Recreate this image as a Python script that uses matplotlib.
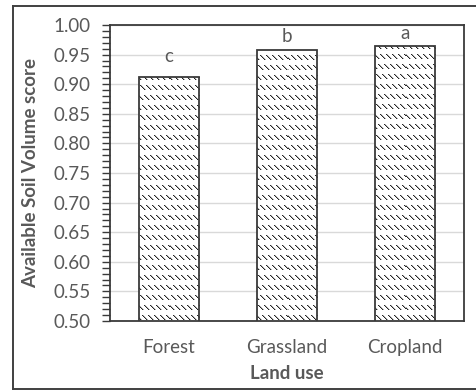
import numpy as np
import matplotlib
matplotlib.use("Agg")
import matplotlib.pyplot as plt
from matplotlib.lines import Line2D
from matplotlib.ticker import MultipleLocator, FormatStrFormatter

# Available soil volume score by land use
land_use = ["Forest", "Grassland", "Cropland"]
score = [0.912, 0.957, 0.965]
std_err = [0.018, 0.007, 0.004]
letters = ["c", "b", "a"]

plt.rcParams["font.family"] = ["Lato", "DejaVu Sans"]
text_grey = "#595959"
frame_col = "#3a3a3a"
fs = 13.5

fig = plt.figure(figsize=(4.76, 3.90), dpi=100)
ax = fig.add_axes([110 / 476, 1 - 321 / 390, 354 / 476, 296 / 390])

x = np.arange(len(land_use))
bars = ax.bar(x, score, width=0.51, facecolor="none", edgecolor=frame_col,
              linewidth=1.3, zorder=3)

# dashed downward-diagonal fill pattern, built on the pixel grid of the axes
H, W = 296, 354
rr, cc = np.mgrid[0:H, 0:W]
pat = np.ones((H, W))
row_on = (rr % 10) < 5
pat[row_on & (((cc - rr) % 6) == 0)] = 0.15
pat[row_on & (((cc - rr) % 6) == 1)] = 0.7
for b in bars:
    im = ax.imshow(pat, cmap="gray", vmin=0, vmax=1, extent=[0, 1, 0, 1],
                   transform=ax.transAxes, interpolation="nearest",
                   aspect="auto", zorder=2)
    im.set_clip_path(b)

for xi, v, e, t in zip(x, score, std_err, letters):
    ax.annotate(t, (xi, v + e), xytext=(0, 1), textcoords="offset points",
                ha="center", va="bottom", fontsize=fs, color=text_grey)

ax.set_xlim(-0.5, 2.5)
ax.set_ylim(0.50, 1.00)
ax.yaxis.set_major_locator(MultipleLocator(0.05))
ax.yaxis.set_minor_locator(MultipleLocator(0.01))
ax.yaxis.set_major_formatter(FormatStrFormatter("%.2f"))
ax.grid(axis="y", which="major", color="#d9d9d9", linewidth=1.0, zorder=0)
ax.set_axisbelow(True)

ax.tick_params(axis="y", which="both", direction="out", length=6, width=1.0,
               color=frame_col, labelsize=fs, labelcolor=text_grey, pad=8)
ax.tick_params(axis="y", which="minor", length=6)
ax.set_xticks(x)
ax.set_xticklabels(land_use)
ax.tick_params(axis="x", length=0, labelsize=fs, labelcolor=text_grey, pad=13)

for s in ax.spines.values():
    s.set_color(frame_col)
    s.set_linewidth(1.3)

ax.set_ylabel("Available Soil Volume score", fontsize=fs,
              fontweight="bold", color=text_grey)
ax.yaxis.set_label_coords(-0.223, 0.5)
ax.yaxis.label.set_va("center")
ax.set_xlabel("Land use", fontsize=fs, fontweight="bold", color=text_grey)
ax.xaxis.set_label_coords(0.5, -0.178)
ax.xaxis.label.set_va("center")

# chart area border
def fx(px):
    return px / 476

def fy(py):
    return 1 - py / 390

border_kw = dict(color="#404040", linewidth=1.4, transform=fig.transFigure)
fig.add_artist(Line2D([fx(13), fx(13)], [fy(6), fy(389)], **border_kw))
fig.add_artist(Line2D([fx(13), 1.0], [fy(6), fy(6)], **border_kw))
fig.add_artist(Line2D([fx(13), 1.0], [fy(389), fy(389)], **border_kw))

fig.savefig("out.png", dpi=100)
